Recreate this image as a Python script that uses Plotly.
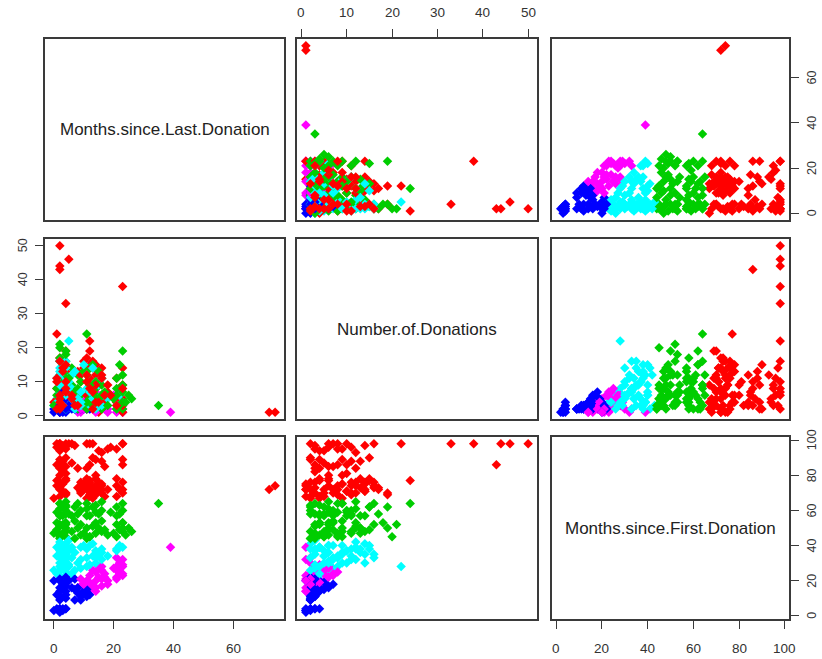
import plotly.graph_objects as go

# Variables (in order): months since last donation, number of donations, months since first donation
var_labels = ["Months.since.Last.Donation", "Number.of.Donations", "Months.since.First.Donation"]

# Cluster points as (last, number, first)
blue_points = [
    (2, 1, 2), (2, 1, 3), (3, 1, 3), (4, 1, 4), (2, 2, 4), (0, 2, 3), (1, 3, 4), (2, 4, 4), (4, 2, 4), (3, 3, 4),
    (2, 2, 9), (4, 2, 10), (2, 3, 11), (4, 3, 12), (1, 2, 12), (2, 4, 14), (4, 4, 14), (3, 5, 15), (2, 6, 16),
    (4, 6, 17), (4, 5, 19), (2, 4, 20), (3, 7, 18), (7, 2, 9), (9, 2, 9), (11, 2, 11), (11, 3, 12), (9, 3, 11),
    (8, 2, 13), (12, 2, 12), (10, 2, 14), (7, 3, 15), (6, 2, 16), (8, 4, 16), (11, 4, 15), (5, 3, 20), (7, 2, 21),
    (4, 2, 22), (2, 3, 21), (0, 1, 20),
]
magenta_points = [
    (9, 1, 14), (11, 2, 14), (8, 1, 16), (11, 3, 16), (9, 4, 17), (12, 2, 15), (14, 2, 16), (13, 3, 18), (16, 2, 17),
    (11, 5, 20), (14, 4, 20), (15, 6, 22), (12, 7, 23), (16, 3, 21), (17, 5, 24), (14, 8, 25), (16, 4, 26), (18, 2, 18),
    (16, 6, 28), (13, 5, 26), (15, 3, 28), (17, 2, 22), (21, 1, 21), (23, 1, 23), (21, 2, 22), (23, 2, 24), (22, 3, 25),
    (21, 4, 26), (23, 3, 28), (21, 5, 28), (22, 2, 30), (23, 1, 32), (21, 2, 33), (23, 4, 29), (20, 6, 27), (22, 7, 24),
    (39, 1, 39), (10, 2, 18), (12, 4, 19), (9, 2, 21), (18, 1, 20), (14, 1, 14),
]
cyan_points = [
    (2, 2, 21), (4, 3, 22), (2, 4, 23), (1, 5, 24), (4, 5, 25), (2, 6, 26), (3, 7, 27), (4, 4, 28), (2, 8, 28),
    (0, 3, 26), (4, 9, 30), (2, 10, 30), (3, 6, 31), (4, 12, 32), (2, 7, 33), (1, 11, 34), (4, 8, 34), (2, 14, 35),
    (3, 9, 36), (4, 16, 35), (2, 5, 37), (4, 11, 38), (2, 13, 38), (1, 4, 39), (4, 6, 40), (2, 9, 40), (3, 15, 38),
    (4, 2, 41), (2, 12, 42), (5, 3, 43), (6, 4, 24), (5, 6, 29), (6, 8, 33), (5, 10, 37), (6, 12, 39), (2, 16, 33),
    (4, 14, 30), (3, 3, 35), (5, 22, 28),
    (7, 2, 26), (9, 3, 27), (11, 4, 28), (8, 5, 30), (12, 3, 29), (14, 6, 30), (9, 7, 32), (11, 8, 33), (13, 5, 34),
    (15, 9, 35), (16, 6, 36), (14, 10, 37), (11, 12, 38), (9, 4, 39), (12, 7, 40), (16, 3, 38), (14, 2, 33),
    (18, 5, 34), (16, 11, 32), (7, 13, 36), (10, 15, 40), (21, 2, 38), (23, 4, 39), (22, 6, 40), (21, 3, 37),
    (13, 14, 41),
]
green_points = [
    (2, 2, 44), (4, 5, 45), (2, 8, 46), (3, 11, 47), (4, 14, 48), (2, 20, 45), (1, 6, 49), (4, 9, 50), (2, 12, 51),
    (3, 3, 52), (4, 16, 52), (2, 21, 52), (1, 4, 53), (4, 7, 53), (2, 10, 57), (3, 13, 57), (4, 4, 58), (2, 17, 58),
    (1, 8, 59), (4, 11, 60), (2, 6, 61), (3, 15, 62), (4, 2, 63), (2, 9, 64), (4, 12, 65), (0, 3, 47), (2, 5, 57),
    (4, 18, 53), (4, 19, 62), (2, 16, 64),
    (7, 3, 44), (9, 6, 46), (6, 9, 48), (8, 12, 50), (9, 4, 52), (7, 7, 54), (6, 14, 57), (8, 2, 58), (9, 10, 60),
    (7, 5, 62), (8, 8, 64), (10, 13, 47), (5, 11, 58),
    (11, 2, 44), (12, 5, 45), (14, 8, 47), (16, 11, 48), (11, 13, 50), (13, 3, 51), (14, 6, 53), (16, 9, 54),
    (11, 4, 57), (12, 7, 57), (14, 10, 59), (16, 2, 60), (11, 12, 61), (13, 15, 62), (14, 4, 63), (16, 6, 65),
    (11, 24, 64), (12, 9, 45), (15, 13, 50), (17, 7, 49), (15, 5, 58),
    (18, 3, 46), (20, 5, 47), (21, 8, 45), (23, 2, 48), (22, 15, 49), (23, 19, 50), (21, 6, 52), (23, 4, 53),
    (21, 11, 57), (22, 3, 58), (23, 7, 60), (21, 2, 62), (23, 9, 64), (26, 5, 48), (25, 6, 50), (24, 4, 46),
    (23, 12, 53), (19, 6, 59), (35, 3, 64),
]
red_points = [
    (2, 1, 68), (4, 3, 70), (2, 5, 72), (1, 8, 74), (4, 11, 69), (3, 14, 71), (2, 17, 73), (4, 19, 70), (2, 2, 76),
    (4, 6, 77), (1, 24, 77), (3, 9, 75), (4, 13, 78), (2, 16, 76), (0, 4, 67),
    (11, 2, 67), (12, 5, 68), (14, 8, 69), (16, 11, 70), (13, 14, 71), (11, 17, 72), (14, 3, 73), (16, 6, 74),
    (12, 9, 75), (15, 12, 76), (11, 4, 77), (14, 15, 78), (16, 2, 72), (13, 7, 70), (9, 10, 71), (8, 13, 73),
    (10, 16, 74), (12, 19, 69), (15, 1, 75), (17, 4, 68), (18, 7, 72), (9, 3, 76),
    (9, 12, 70), (10, 14, 72), (12, 11, 76), (13, 16, 73), (15, 10, 71), (16, 14, 75), (11, 6, 78), (13, 9, 67),
    (14, 12, 74), (12, 15, 77),
    (21, 2, 68), (23, 5, 70), (22, 8, 72), (21, 11, 74), (23, 14, 76), (21, 4, 78), (23, 1, 72),
    (72, 1, 72), (74, 1, 74),
    (2, 6, 80), (4, 10, 81), (3, 3, 82), (14, 9, 80),
    (2, 4, 84), (4, 7, 85), (1, 10, 86), (3, 13, 88), (2, 2, 89), (4, 15, 90), (6, 5, 87), (8, 3, 84), (12, 8, 86),
    (16, 11, 88), (17, 6, 85), (14, 4, 89), (23, 3, 86), (23, 9, 89), (2, 43, 86), (11, 12, 84), (13, 2, 90),
    (2, 5, 94), (4, 8, 95), (1, 11, 96), (3, 14, 97), (6, 6, 98), (2, 16, 98), (4, 33, 98), (2, 44, 98), (2, 50, 98),
    (5, 46, 98), (23, 38, 98), (12, 22, 98), (11, 10, 98), (13, 7, 98), (16, 12, 93), (18, 9, 95), (15, 4, 94),
    (19, 6, 96), (23, 8, 98), (21, 3, 95), (7, 3, 97), (1, 2, 98),
]

cluster_list = [
    ("#FF0000", red_points),
    ("#00CD00", green_points),
    ("#00FFFF", cyan_points),
    ("#FF00FF", magenta_points),
    ("#0000FF", blue_points),
]

# deterministic round-robin interleave (mimics mixed plotting order)
combined = []
longest = max(len(p) for _, p in cluster_list)
for i in range(longest):
    for color, pts in cluster_list:
        if i < len(pts):
            combined.append((pts[i], color))

var_ranges = [[-2.96, 76.96], [-0.96, 51.96], [-1.84, 101.84]]
var_ticks = [[0, 20, 40, 60], [0, 10, 20, 30, 40, 50], [0, 20, 40, 60, 80, 100]]

W, H = 822, 659
xdom = [[45 / W, 284 / W], [297 / W, 537 / W], [552 / W, 789 / W]]
ydom = [[1 - 220 / H, 1 - 39 / H], [1 - 419 / H, 1 - 239 / H], [1 - 619 / H, 1 - 437 / H]]

fig = go.Figure()
layout_axes = {}
annotations = []
FONT = "Liberation Sans, Arial, sans-serif"
TICK_COLOR = "#333333"
line_col = "#3a3a3a"

# tick-label positions (paper coordinates)
top_label_y = 1 - 13 / H
bottom_label_y = 1 - 648 / H
left_label_x = 22.5 / W
right_label_x = 812 / W

for r in range(3):
    for c in range(3):
        k = r * 3 + c + 1
        xa = "x" if k == 1 else f"x{k}"
        ya = "y" if k == 1 else f"y{k}"
        if r != c:
            fig.add_trace(go.Scatter(
                x=[p[c] for p, _ in combined],
                y=[p[r] for p, _ in combined],
                mode="markers",
                marker=dict(symbol="diamond", size=7.3, color=[col for _, col in combined], line=dict(width=0)),
                xaxis=xa, yaxis=ya, hoverinfo="skip", showlegend=False,
            ))
        else:
            fig.add_trace(go.Scatter(x=[None], y=[None], mode="markers", xaxis=xa, yaxis=ya,
                                     hoverinfo="skip", showlegend=False))
            annotations.append(dict(
                text=var_labels[r], x=0.5, y=0.5, xref=f"{xa} domain", yref=f"{ya} domain",
                showarrow=False, font=dict(family=FONT, size=17, color="#222222"),
            ))
        xax = dict(domain=xdom[c], range=var_ranges[c], anchor=ya, showline=True, mirror=True,
                   linecolor=line_col, linewidth=1.6, showgrid=False, zeroline=False,
                   showticklabels=False, ticks="", fixedrange=True)
        yax = dict(domain=ydom[r], range=var_ranges[r], anchor=xa, showline=True, mirror=True,
                   linecolor=line_col, linewidth=1.6, showgrid=False, zeroline=False,
                   showticklabels=False, ticks="", fixedrange=True)
        if (r == 0 and c == 1) or (r == 2 and c in (0, 2)):
            xax.update(side="top" if r == 0 else "bottom", ticks="outside", ticklen=8, tickwidth=1.3,
                       tickcolor=line_col, tickvals=var_ticks[c])
            for v in var_ticks[c]:
                annotations.append(dict(
                    text=str(v), x=v, xref=xa, y=top_label_y if r == 0 else bottom_label_y, yref="paper",
                    showarrow=False, xanchor="center", yanchor="middle",
                    font=dict(family=FONT, size=13.5, color=TICK_COLOR),
                ))
        if (r == 1 and c == 0) or (c == 2 and r in (0, 2)):
            yax.update(side="left" if c == 0 else "right", ticks="outside", ticklen=8, tickwidth=1.3,
                       tickcolor=line_col, tickvals=var_ticks[r])
            for v in var_ticks[r]:
                annotations.append(dict(
                    text=str(v), y=v, yref=ya, x=left_label_x if c == 0 else right_label_x, xref="paper",
                    showarrow=False, xanchor="center", yanchor="middle", textangle=-90,
                    font=dict(family=FONT, size=12.5, color=TICK_COLOR),
                ))
        layout_axes["xaxis" if k == 1 else f"xaxis{k}"] = xax
        layout_axes["yaxis" if k == 1 else f"yaxis{k}"] = yax

fig.update_layout(
    width=W, height=H, margin=dict(l=0, r=0, t=0, b=0),
    paper_bgcolor="white", plot_bgcolor="white",
    annotations=annotations, showlegend=False, **layout_axes,
)

fig.write_html("out.html", config={"displayModeBar": False},
               post_script="document.body.style.margin='0px';")
